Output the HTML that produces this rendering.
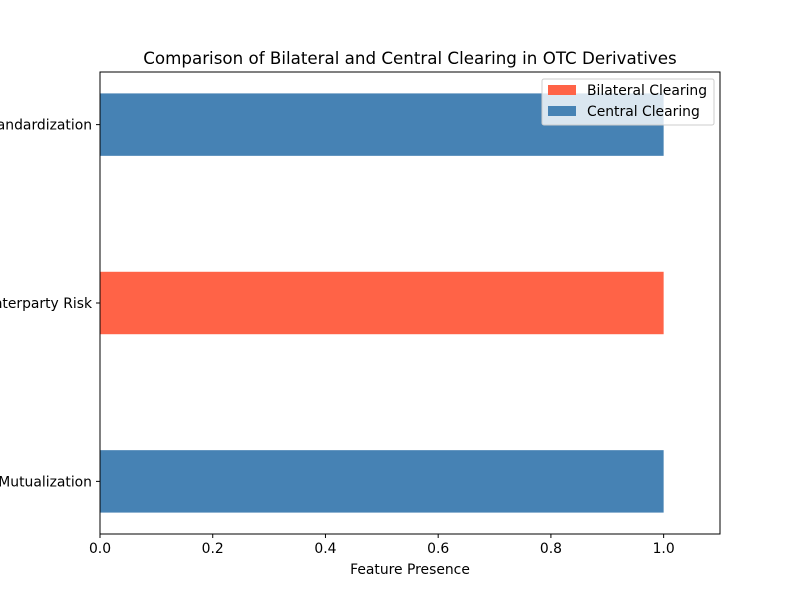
<!DOCTYPE html>
<html><head><meta charset="utf-8"><style>
body{margin:0;background:#fff;font-family:"Liberation Sans","DejaVu Sans",sans-serif}
svg text{font-family:"DejaVu Sans","Liberation Sans",sans-serif}
</style></head><body>
<svg id="chart" width="800" height="600" viewBox="0 0 800 600" xmlns="http://www.w3.org/2000/svg">
<rect width="800" height="600" fill="#fff"/>
<text x="410" y="64" font-size="16.7" text-anchor="middle" fill="#000">Comparison of Bilateral and Central Clearing in OTC Derivatives</text>
<g id="bars"></g>
<g id="axes"></g>
<rect x="100" y="72" width="620" height="462" fill="none" stroke="#000" stroke-width="1"/>
<text x="410" y="574" font-size="13.9" text-anchor="middle">Feature Presence</text>
<g>
<rect x="542" y="79" width="172" height="46" fill="#fff" fill-opacity="0.8" stroke="#ccc" rx="2"/>
<rect x="548" y="85" width="28" height="10" fill="#ff6347"/>
<text x="587" y="95" font-size="13.9">Bilateral Clearing</text>
<rect x="548" y="106" width="28" height="10" fill="#4682b4"/>
<text x="587" y="116" font-size="13.9">Central Clearing</text>
</g>
</svg>
<script>
const categories = ["Standardization", "Counterparty Risk", "Loss Mutualization"];
const bilateralValues = [0, 1, 0];
const centralValues = [1, 0, 1];
const xTicks = [0, 0.2, 0.4, 0.6, 0.8, 1.0];
const xTickLabels = ["0.0", "0.2", "0.4", "0.6", "0.8", "1.0"];

const NS = "http://www.w3.org/2000/svg";
const L = 100, R = 720, T = 72, B = 534;
const xMax = 1.1, yMin = -0.295, yMax = 2.295, barH = 0.35;
const xs = v => L + v / xMax * (R - L);
const n = categories.length;
const ys = i => { const v = n - 1 - i; return B - (v - yMin) / (yMax - yMin) * (B - T); };
const unit = (B - T) / (yMax - yMin);
const bars = document.getElementById("bars"), axes = document.getElementById("axes");
function mk(tag, attrs, parent) { const e = document.createElementNS(NS, tag); for (const k in attrs) e.setAttribute(k, attrs[k]); parent.appendChild(e); return e; }

[[bilateralValues, "#ff6347", "bilateral"], [centralValues, "#4682b4", "central"]].forEach(([vals, col, nm]) => {
  vals.forEach((v, i) => {
    const w = xs(v) - xs(0);
    const r = mk("rect", { x: xs(0), y: ys(i) - barH * unit / 2, width: Math.max(0, w), height: barH * unit, fill: col }, bars);
    
    
  });
});
xTicks.forEach((t, i) => {
  const x = xs(t);
  const l = mk("line", { x1: x, x2: x, y1: B, y2: B + 4, stroke: "#000" }, axes);
  
  
  const tx = mk("text", { x: x, y: B + 19, "font-size": 13.9, "text-anchor": "middle" }, axes);
  tx.textContent = xTickLabels[i];
  
  
});
categories.forEach((c, i) => {
  const y = ys(i);
  const l = mk("line", { x1: L - 4, x2: L, y1: y, y2: y, stroke: "#000" }, axes);
  
  
  const tx = mk("text", { x: L - 8, y: y + 5, "font-size": 13.9, "text-anchor": "end" }, axes);
  tx.textContent = c;
  
  
});
</script>
</body></html>
